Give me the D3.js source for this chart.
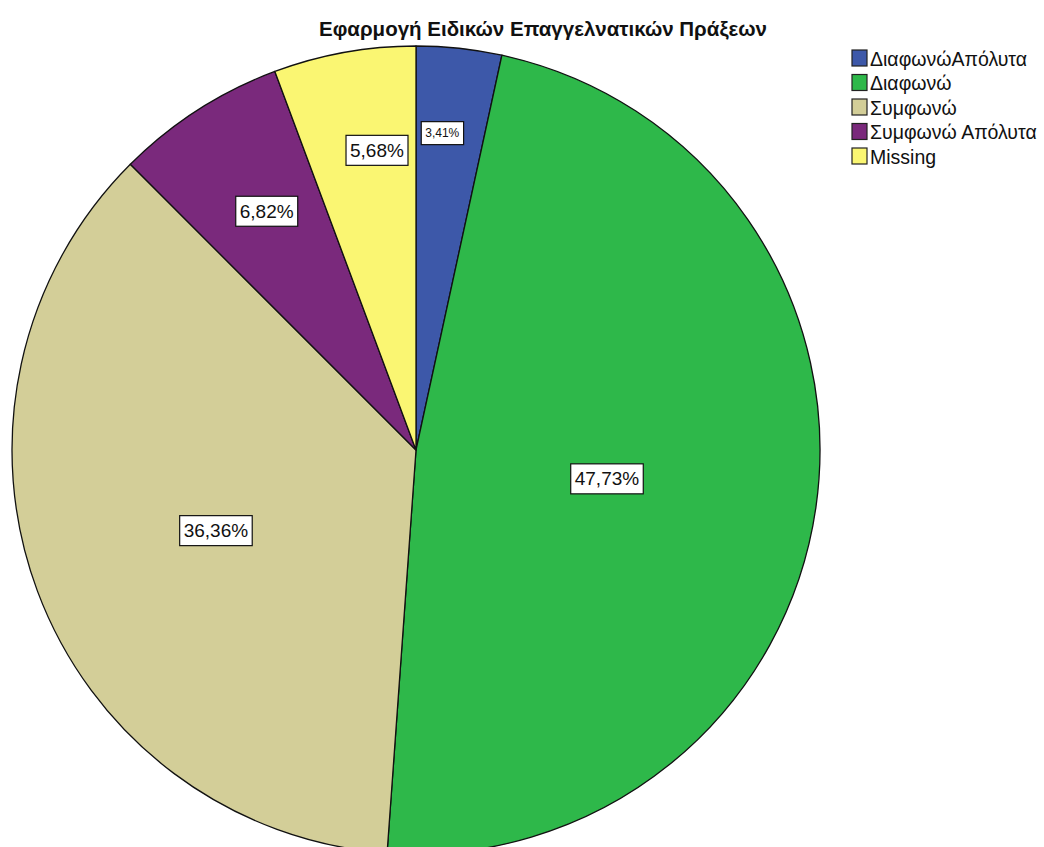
<!DOCTYPE html>
<html>
<head>
<meta charset="utf-8">
<script src="https://cdn.jsdelivr.net/npm/d3@7/dist/d3.min.js"></script>
<style>
  html, body { margin: 0; padding: 0; background: #fff; }
  svg { display: block; }
</style>
</head>
<body>
<svg id="chart" width="1044" height="847"></svg>
<script>
// Response categories, shares (%) and fill colours
const categories = ["ΔιαφωνώΑπόλυτα", "Διαφωνώ", "Συμφωνώ", "Συμφωνώ Απόλυτα", "Missing"];
const percents = [3.41, 47.73, 36.36, 6.82, 5.68];
const colors = ["#3d58a9", "#2eb84a", "#d3ce98", "#7a297c", "#faf672"];
const title = "Εφαρμογή Ειδικών Επαγγελνατικών Πράξεων";

// Label placement: radius fraction and angular nudge (degrees) per slice
const labelRadius = [0.787, 0.478, 0.534, 0.697, 0.748];
const labelNudge = [-1.4, 0.4, -1.5, 0.7, 2.8];
const labelFont = [12, 19, 19, 19, 19];

const svg = d3.select("#chart");
const cx = 416, cy = 450, R = 404;

const pie = d3.pie().sort(null).value(d => d)(percents);
const arc = d3.arc().innerRadius(0).outerRadius(R);

const g = svg.append("g").attr("transform", `translate(${cx},${cy})`);

g.selectAll("path.slice")
  .data(pie)
  .join("path")
  .attr("class", "slice")
  .attr("d", arc)
  .attr("fill", (d, i) => colors[i])
  .attr("stroke", "#111")
  .attr("stroke-width", 1.3)
  .attr("stroke-linejoin", "round");

const fmt = v => v.toFixed(2).replace(".", ",") + "%";

// Percentage labels in white boxes
const labels = g.selectAll("g.lbl")
  .data(pie)
  .join("g")
  .attr("class", "lbl")
  .attr("transform", (d, i) => {
    const a = (d.startAngle + d.endAngle) / 2 + labelNudge[i] * Math.PI / 180;
    const r = labelRadius[i] * R;
    return `translate(${r * Math.sin(a)},${-r * Math.cos(a)})`;
  });

labels.each(function (d, i) {
  const sel = d3.select(this);
  const t = sel.append("text")
    .attr("text-anchor", "middle")
    .attr("dominant-baseline", "central")
    .attr("font-family", "Liberation Sans, Arial, sans-serif")
    .attr("font-size", labelFont[i])
    .attr("fill", "#111")
    .text(fmt(d.data));
  const bb = t.node().getBBox();
  const small = labelFont[i] < 14;
  const padX = small ? 4 : 4, padY = small ? 5 : 5;
  sel.insert("rect", "text")
    .attr("x", bb.x - padX)
    .attr("y", bb.y - padY + 0.5)
    .attr("width", bb.width + 2 * padX)
    .attr("height", bb.height + 2 * padY - 1)
    .attr("fill", "#fff")
    .attr("stroke", "#111")
    .attr("stroke-width", 1.2);
});

// Title
svg.append("text")
  .attr("x", 543)
  .attr("y", 36)
  .attr("text-anchor", "middle")
  .attr("font-family", "Liberation Sans, Arial, sans-serif")
  .attr("font-weight", "bold")
  .attr("font-size", 20.5)
  .attr("fill", "#111")
  .text(title);

// Legend
const legend = svg.append("g").attr("transform", "translate(852,50)");
const rows = legend.selectAll("g")
  .data(categories)
  .join("g")
  .attr("transform", (d, i) => `translate(0,${i * 24.5})`);
rows.append("rect")
  .attr("width", 15).attr("height", 16)
  .attr("fill", (d, i) => colors[i])
  .attr("stroke", "#222").attr("stroke-width", 1.2);
rows.append("text")
  .attr("x", 18).attr("y", 8.5)
  .attr("dominant-baseline", "central")
  .attr("font-family", "Liberation Sans, Arial, sans-serif")
  .attr("font-size", 19.5)
  .attr("fill", "#111")
  .text(d => d);
</script>
</body>
</html>
